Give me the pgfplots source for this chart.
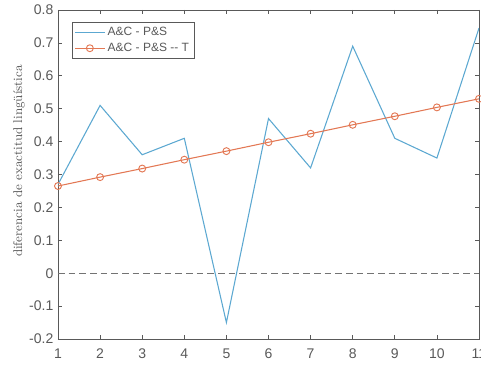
\documentclass[border=0pt]{standalone}
\usepackage{pgfplots}
\pgfplotsset{compat=1.18}
\usepackage{fontspec}
\setmainfont{Liberation Sans}
\newfontfamily\serifl{Latin Modern Roman}
\definecolor{mblue}{rgb}{0.36,0.66,0.82}
\definecolor{morange}{rgb}{0.89,0.47,0.33}
\definecolor{axgray}{rgb}{0.35,0.35,0.35}
\begin{document}
\begin{tikzpicture}
\begin{axis}[
  name=ax,
  scale only axis,
  width=315.75pt, height=246.75pt,
  xmin=1, xmax=11, ymin=-0.2, ymax=0.8,
  xtick={1,...,11},
  ytick={-0.2,-0.1,0,0.1,0.2,0.3,0.4,0.5,0.6,0.7,0.8},
  yticklabels={-0.2,-0.1,0,0.1,0.2,0.3,0.4,0.5,0.6,0.7,0.8},
  /pgf/number format/assume math mode=true,
  tick align=inside,
  tick pos=both,
  major tick length=3pt,
  axis line style={axgray, line width=0.5pt},
  every tick/.style={axgray, line width=0.5pt},
  tick label style={font=\fontsize{10.5}{12}\selectfont, text=axgray},
  xticklabel style={yshift=-4pt},
  ylabel={\serifl diferencia de exactitud lingüística},
  ylabel style={font=\fontsize{9.5}{11}\selectfont, text=axgray,
    at={(axis description cs:-0.0926,0.541)}, anchor=center},
  legend style={at={(0,1)}, anchor=north west, xshift=10.5pt, yshift=-9pt,
    font=\fontsize{9}{10.5}\selectfont, draw=axgray, text=axgray, inner sep=1.8pt, row sep=0pt},
  legend image code/.code={\draw[mark repeat=2,mark phase=2,#1] plot coordinates {(0pt,0pt) (11pt,0pt) (22pt,0pt)};},
  legend cell align=left,
  clip=true,
]
\addplot[mblue, line width=0.8pt] coordinates {
(1,0.27) (2,0.51) (3,0.36) (4,0.41) (5,-0.15) (6,0.47) (7,0.32) (8,0.69) (9,0.41) (10,0.35) (11,0.745)};
\addlegendentry{A\&C - P\&S}
\addplot[morange, line width=0.8pt, mark=o, mark size=2.6pt, mark options={line width=0.7pt}] coordinates {
(1,0.265) (2,0.292) (3,0.318) (4,0.345) (5,0.371) (6,0.398) (7,0.424) (8,0.451) (9,0.477) (10,0.504) (11,0.530)};
\addlegendentry{A\&C - P\&S -{}- T}
\addplot[black!55, dash pattern=on 5pt off 3pt, line width=0.9pt, forget plot] coordinates {(1,0) (11,0)};
\end{axis}
\pgfresetboundingbox
\path ([xshift=-43.5pt, yshift=-20.25pt]ax.south west) rectangle ([xshift=1.5pt, yshift=7.5pt]ax.north east);
\end{tikzpicture}
\end{document}
